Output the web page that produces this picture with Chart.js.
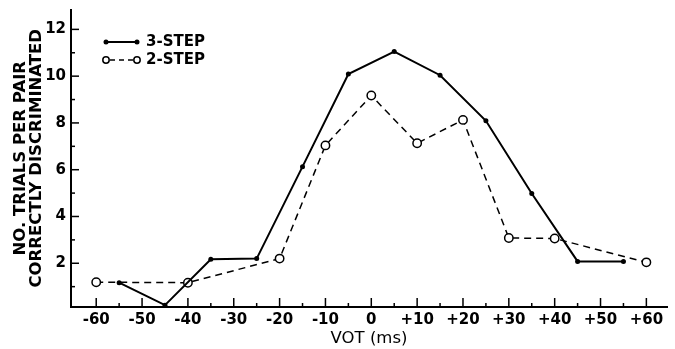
<!DOCTYPE html>
<html>
<head>
<meta charset="utf-8">
<script src="https://cdn.jsdelivr.net/npm/chart.js@4"></script>
<style>
  html, body { margin: 0; padding: 0; background: #fff; }
  #wrap { width: 675px; height: 349px; }
</style>
</head>
<body>
<div id="wrap"><canvas id="votChart"></canvas></div>
<script>
// data
var threeStepVot = [-55, -45, -35, -25, -15, -5, 5, 15, 25, 35, 45, 55];
var threeStepTrials = [1.17, 0.21, 2.17, 2.2, 6.13, 10.09, 11.05, 10.04, 8.09, 4.98, 2.08, 2.08];
var twoStepVot = [-60, -40, -20, -10, 0, 10, 20, 30, 40, 60];
var twoStepTrials = [1.19, 1.17, 2.2, 7.04, 9.17, 7.13, 8.13, 3.08, 3.06, 2.04];
var xTickValues = [-60, -55, -50, -45, -40, -35, -30, -25, -20, -15, -10, -5, 0, 5, 10, 15, 20, 25, 30, 35, 40, 45, 50, 55, 60];
var yTickValues = [1, 2, 3, 4, 5, 6, 7, 8, 9, 10, 11, 12];

var FONT = "'DejaVu Sans', sans-serif";

function toPoints(xs, ys) {
    return xs.map(function (x, i) { return {x: x, y: ys[i]}; });
}

// inward tick marks + hand lettered legend
var axisDecor = {
    id: 'axisDecor',
    afterDraw: function (chart) {
        var ctx = chart.ctx;
        var xs = chart.scales.x, ys = chart.scales.y;
        var area = chart.chartArea;
        ctx.save();
        ctx.strokeStyle = '#000';
        ctx.lineWidth = 1.5;
        xTickValues.forEach(function (v) {
            var px = xs.getPixelForValue(v);
            var len = (v % 10 === 0) ? 9 : 4;
            ctx.beginPath();
            ctx.moveTo(px, area.bottom);
            ctx.lineTo(px, area.bottom - len);
            ctx.stroke();
        });
        yTickValues.forEach(function (v) {
            var py = ys.getPixelForValue(v);
            var len = (v % 2 === 0) ? 8 : 4;
            ctx.beginPath();
            ctx.moveTo(area.left, py);
            ctx.lineTo(area.left + len, py);
            ctx.stroke();
        });

        // legend
        var lx0 = 106, lx1 = 137;
        ctx.lineWidth = 2;
        ctx.beginPath();
        ctx.moveTo(lx0, 42);
        ctx.lineTo(lx1, 42);
        ctx.stroke();
        ctx.fillStyle = '#000';
        [lx0, lx1].forEach(function (x) {
            ctx.beginPath();
            ctx.arc(x, 42, 2.5, 0, Math.PI * 2);
            ctx.fill();
        });
        ctx.lineWidth = 1.5;
        ctx.setLineDash([5, 4]);
        ctx.beginPath();
        ctx.moveTo(lx0 + 4, 60);
        ctx.lineTo(lx1 - 4, 60);
        ctx.stroke();
        ctx.setLineDash([]);
        [lx0, lx1].forEach(function (x) {
            ctx.beginPath();
            ctx.arc(x, 60, 3.2, 0, Math.PI * 2);
            ctx.fillStyle = '#fff';
            ctx.fill();
            ctx.stroke();
        });
        ctx.fillStyle = '#000';
        ctx.font = 'bold 15px ' + FONT;
        ctx.textBaseline = 'middle';
        ctx.textAlign = 'left';
        ctx.fillText('3-STEP', 146, 42);
        ctx.fillText('2-STEP', 146, 60);
        ctx.restore();
    }
};

var chart = new Chart(document.getElementById('votChart'), {
    type: 'scatter',
    data: {
        datasets: [{
            label: '3-STEP',
            data: toPoints(threeStepVot, threeStepTrials),
            showLine: true,
            borderColor: '#000',
            borderWidth: 2,
            backgroundColor: '#000',
            pointRadius: 2.5,
            pointBorderWidth: 0,
            tension: 0
        }, {
            label: '2-STEP',
            data: toPoints(twoStepVot, twoStepTrials),
            showLine: true,
            borderColor: '#000',
            borderWidth: 1.5,
            borderDash: [7, 5],
            backgroundColor: '#fff',
            pointBackgroundColor: '#fff',
            pointBorderColor: '#000',
            pointRadius: 4.2,
            pointBorderWidth: 1.5,
            tension: 0
        }]
    },
    options: {
        responsive: true,
        maintainAspectRatio: false,
        animation: false,
        layout: {padding: {top: 3.5, right: 8, left: 0, bottom: 0}},
        plugins: {
            legend: {display: false},
            tooltip: {enabled: false}
        },
        scales: {
            x: {
                type: 'linear',
                min: -65.5,
                max: 64.5,
                afterBuildTicks: function (s) {
                    s.ticks = xTickValues.filter(function (v) { return v % 10 === 0; })
                        .map(function (v) { return {value: v}; });
                },
                afterFit: function (s) { s.height = 42; },
                border: {display: true, color: '#000', width: 2},
                grid: {display: false, drawTicks: false},
                ticks: {
                    color: '#000',
                    padding: 4,
                    maxRotation: 0,
                    autoSkip: false,
                    font: {family: FONT, size: 15, weight: 'bold'},
                    callback: function (v) { return v > 0 ? '+' + v : String(v); }
                },
                title: {
                    display: true,
                    text: 'VOT (ms)',
                    color: '#000',
                    padding: {top: 0, bottom: 0},
                    font: {family: FONT, size: 16.5}
                }
            },
            y: {
                type: 'linear',
                min: 0.13,
                max: 12.85,
                afterBuildTicks: function (s) {
                    s.ticks = yTickValues.filter(function (v) { return v % 2 === 0; })
                        .map(function (v) { return {value: v}; });
                },
                afterFit: function (s) { s.width = 71; },
                border: {display: true, color: '#000', width: 2},
                grid: {display: false, drawTicks: false},
                ticks: {
                    color: '#000',
                    padding: 5,
                    autoSkip: false,
                    font: {family: FONT, size: 15, weight: 'bold', lineHeight: 0.6}
                },
                title: {
                    display: true,
                    text: ['NO. TRIALS PER PAIR', 'CORRECTLY DISCRIMINATED'],
                    color: '#000',
                    padding: {top: 12, bottom: 0},
                    font: {family: FONT, size: 16.5, weight: 'bold', lineHeight: 1.0}
                }
            }
        }
    },
    plugins: [axisDecor]
});
</script>
</body>
</html>
